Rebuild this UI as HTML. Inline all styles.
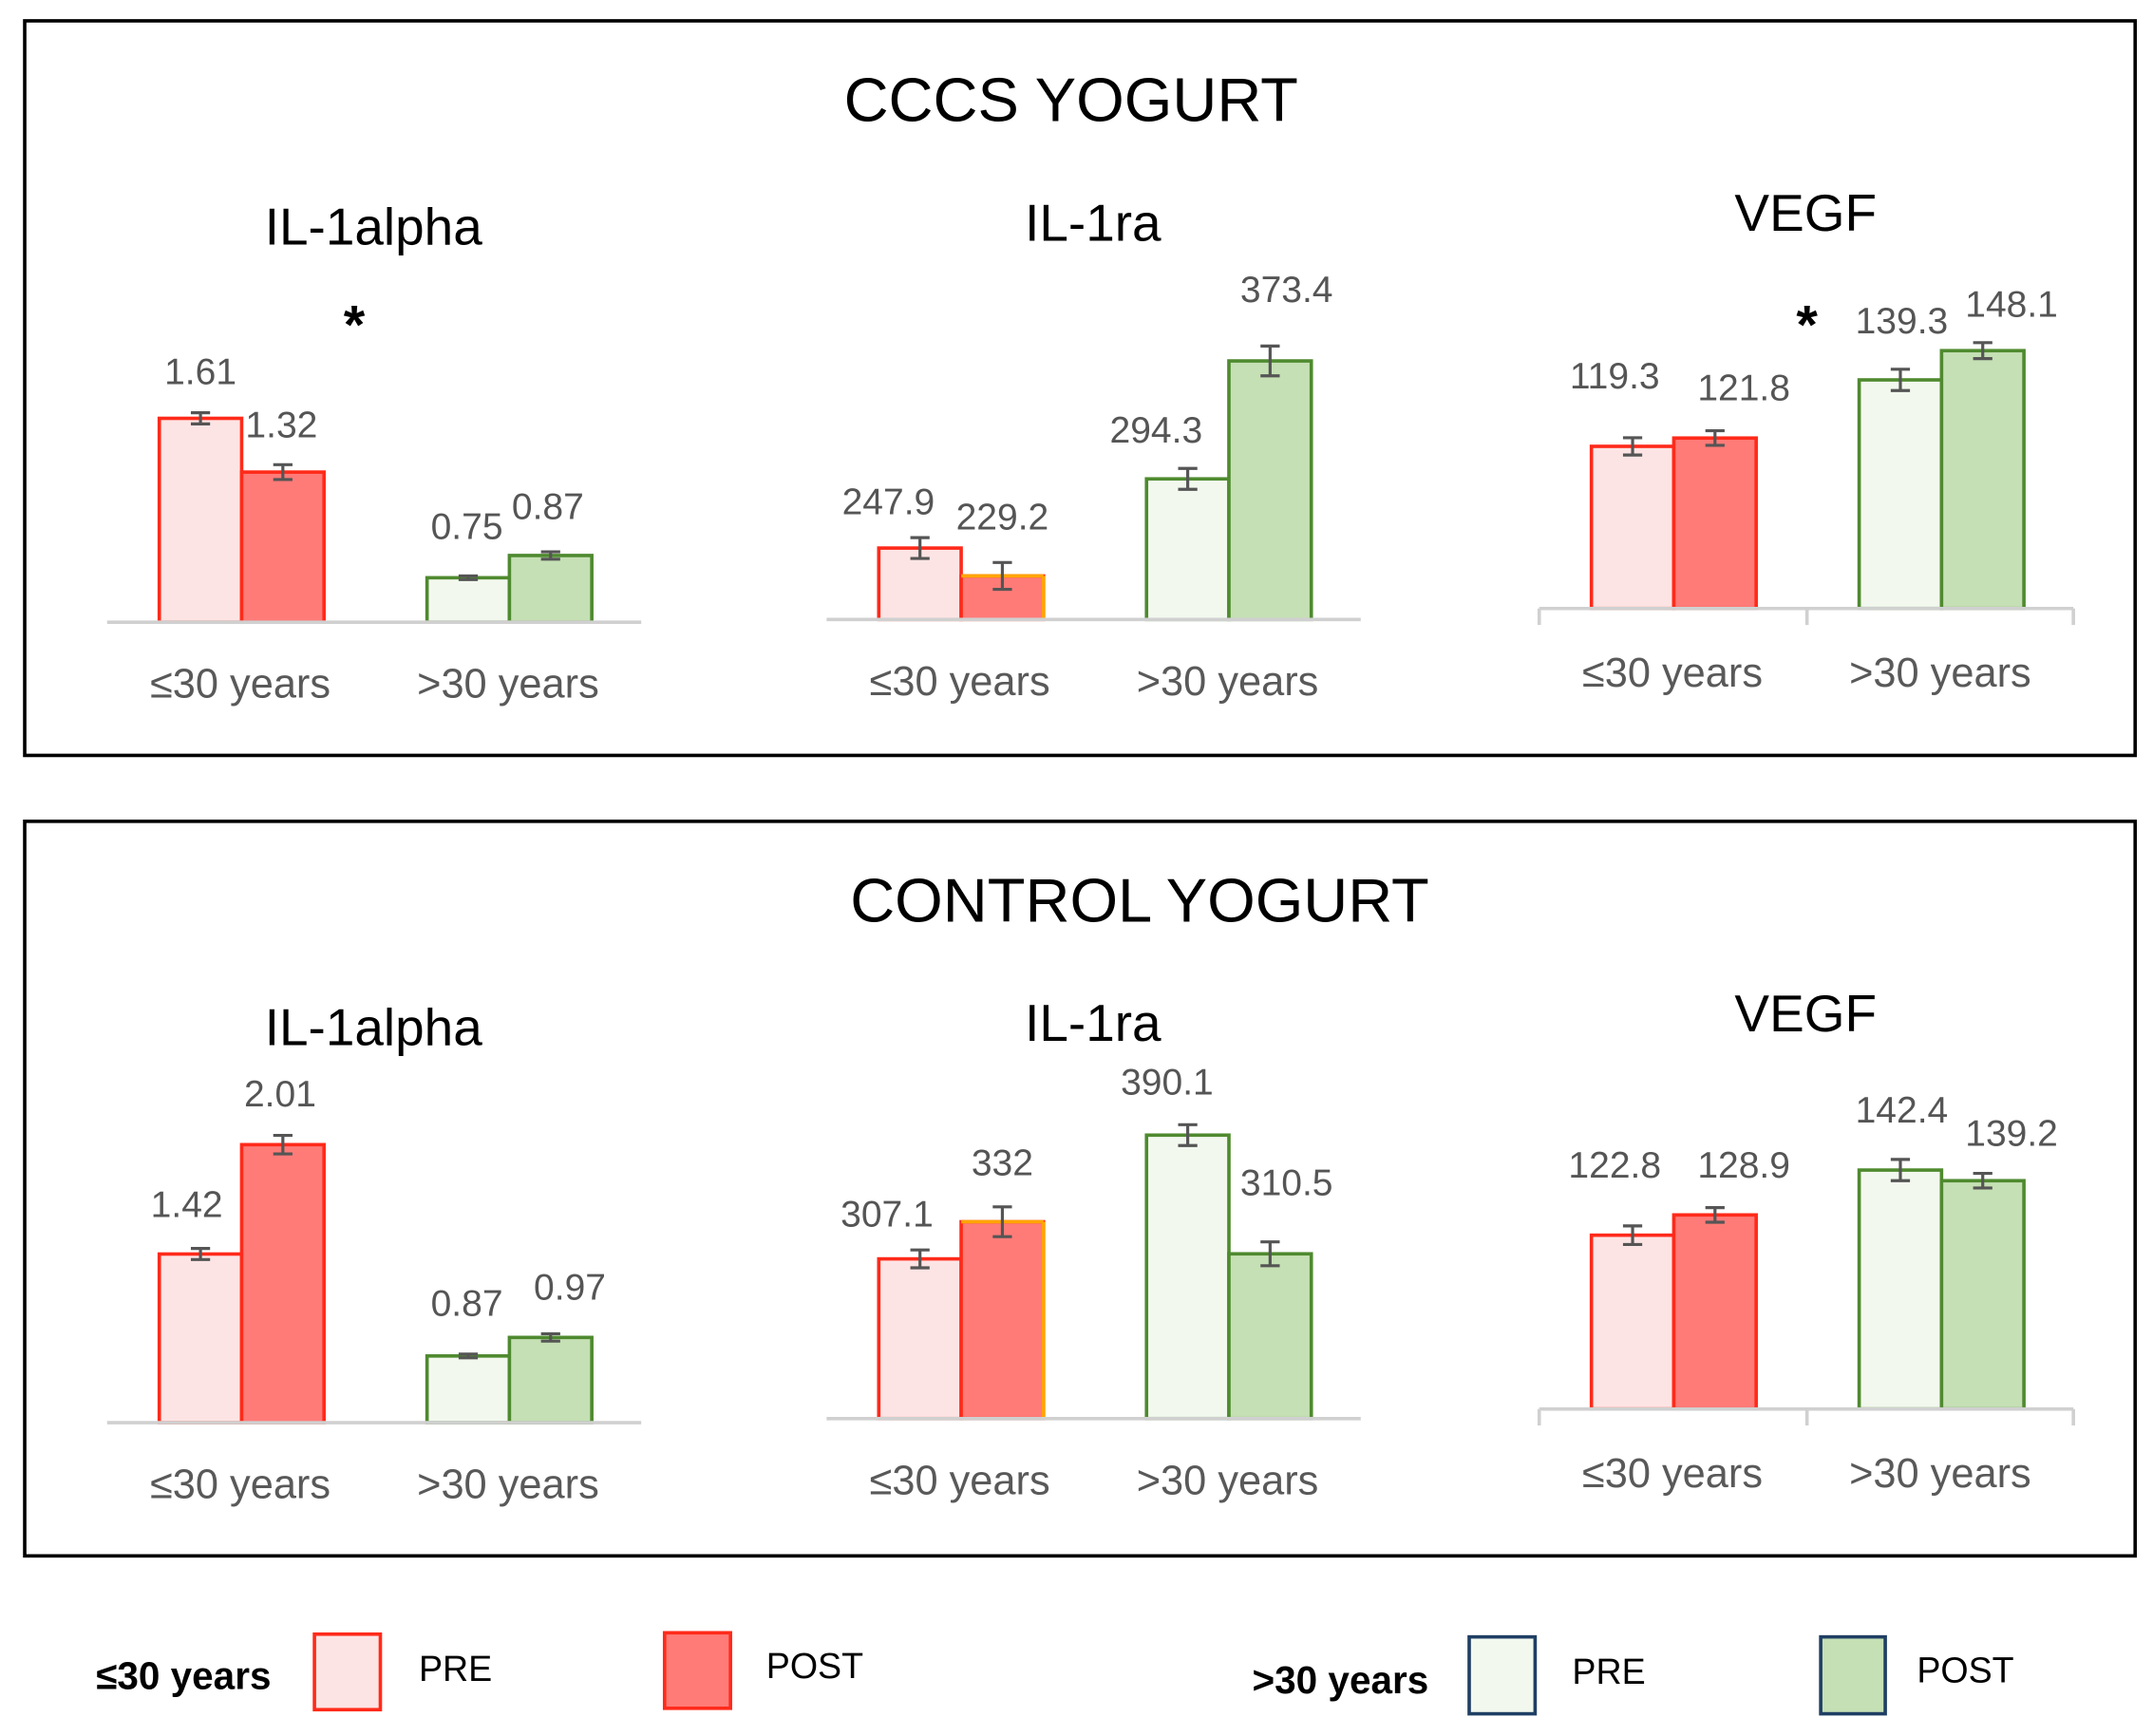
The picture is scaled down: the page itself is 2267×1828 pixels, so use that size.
<!DOCTYPE html>
<html><head><meta charset="utf-8">
<style>
html,body{margin:0;padding:0;background:#fff;}
svg{display:block;font-family:"Liberation Sans",sans-serif;}
</style></head>
<body>
<svg id="chart" width="2267" height="1828" viewBox="0 0 1568 1264" xmlns="http://www.w3.org/2000/svg">
<rect x="0" y="0" width="1568" height="1264" fill="#fff"/>
<rect x="18" y="15" width="1537" height="535" fill="none" stroke="#000" stroke-width="2.5"/>
<rect x="18" y="598" width="1537" height="535" fill="none" stroke="#000" stroke-width="2.5"/>
<text x="780" y="88" font-size="45" text-anchor="middle" fill="#000">CCCS YOGURT</text>
<text x="830" y="671" font-size="45" text-anchor="middle" fill="#000">CONTROL YOGURT</text>
<g id="panels"></g>
<g>
<text x="70" y="1230" font-size="28" font-weight="bold" fill="#000">≤30 years</text>
<rect x="229" y="1190" width="48" height="55" fill="#fde4e4" stroke="#ff2a1a" stroke-width="2.5"/>
<text x="305" y="1224" font-size="26" fill="#000">PRE</text>
<rect x="484" y="1189" width="48" height="55" fill="#ff7b78" stroke="#ff2a1a" stroke-width="2.5"/>
<text x="558" y="1222" font-size="26" fill="#000">POST</text>
<text x="912" y="1233" font-size="28" font-weight="bold" fill="#000">&gt;30 years</text>
<rect x="1070" y="1192" width="48" height="56" fill="#f2f8ee" stroke="#1f3f64" stroke-width="2.5"/>
<text x="1145" y="1226" font-size="26" fill="#000">PRE</text>
<rect x="1326" y="1192" width="47" height="56" fill="#c5e0b4" stroke="#1f3f64" stroke-width="2.5"/>
<text x="1396" y="1225" font-size="26" fill="#000">POST</text>
</g>
</svg>
<script>
// data arrays (order: <=30 PRE, <=30 POST, >30 PRE, >30 POST)
const metrics = ["IL-1alpha","IL-1ra","VEGF","IL-1alpha","IL-1ra","VEGF"];
const categories = ["≤30 years", ">30 years"];
const valuesCCCS = [[1.61,1.32,0.75,0.87],[247.9,229.2,294.3,373.4],[119.3,121.8,139.3,148.1]];
const valuesControl = [[1.42,2.01,0.87,0.97],[307.1,332,390.1,310.5],[122.8,128.9,142.4,139.2]];
const errCCCS = [[0.03,0.04,0.01,0.02],[7,9,7,10],[2.6,2.2,3.2,2.4]];
const errControl = [[0.03,0.05,0.01,0.02],[6,10,7,8],[2.8,2.2,3.2,2.2]];
const labelsCCCS = [["1.61","1.32","0.75","0.87"],["247.9","229.2","294.3","373.4"],["119.3","121.8","139.3","148.1"]];
const labelsControl = [["1.42","2.01","0.87","0.97"],["307.1","332","390.1","310.5"],["122.8","128.9","142.4","139.2"]];
const axisMin = [0.51, 200, 70.5];
const pxPerUnit = [135, 1.086, 2.42];

// label layout nudges (layout, not data)
const nudgeCCCS = [[[0,-4],[-1,-3],[-1,-10],[-2,-7]],[[-23,0],[0,-7],[-23,-2],[12,-15]],[[-13,-19],[21,-5],[1,-9],[21,-2]]];
const nudgeControl = [[[-10,-6],[-2,-4],[-1,-11],[14,-8]],[[-24,0],[0,-6],[-15,-5],[12,-17]],[[-13,-18],[21,-5],[1,-10],[21,-3]]];

const NS="http://www.w3.org/2000/svg";
const root=document.getElementById('panels');
function mk(tag,attrs,parent){const e=document.createElementNS(NS,tag);for(const k in attrs)e.setAttribute(k,attrs[k]);(parent||root).appendChild(e);return e;}
const axisX=[78,602,1121];
const baseTop=[453,451,443], baseBot=[1036,1033,1026];
const titleY=[178,175,168];
const fills=["#fde4e4","#ff7b78","#f2f8ee","#c5e0b4"];
const strokes=["#ff2a1a","#ff2a1a","#4f8a2f","#4f8a2f"];
const offs=[38,98,233,293];
for(let row=0;row<2;row++){
  const vals=row?valuesControl:valuesCCCS, errs=row?errControl:errCCCS, labs=row?labelsControl:labelsCCCS, nud=row?nudgeControl:nudgeCCCS;
  for(let p=0;p<3;p++){
    const x0=axisX[p], base=row?baseBot[p]:baseTop[p], dy=row?583:0;
    const g=mk('g',{});
    
    
    const t=mk('text',{x:x0+194,y:titleY[p]+dy,'font-size':38,'text-anchor':'middle',fill:'#000'},g);
    t.textContent=metrics[p];
    
    
    const yv=v=>base-(v-axisMin[p])*pxPerUnit[p];
    for(let i=0;i<4;i++){
      const v=vals[p][i], top=yv(v), bx=x0+offs[i];
      const r=mk('rect',{x:bx,y:top,width:60,height:base-top,fill:fills[i],stroke:strokes[i],'stroke-width':2.5},g);
      
      
      if(p===1&&i===1){mk('line',{x1:bx,y1:top,x2:bx+60,y2:top,stroke:'#ffa500','stroke-width':2.5},g);mk('line',{x1:bx+60,y1:top,x2:bx+60,y2:base,stroke:'#ffa500','stroke-width':2.5},g);}
      const cx=bx+30, e1=yv(v+errs[p][i]), e2=yv(v-errs[p][i]);
      const eb=mk('path',{d:`M${cx},${e1}V${e2}M${cx-7},${e1}H${cx+7}M${cx-7},${e2}H${cx+7}`,stroke:'#555','stroke-width':2.2,fill:'none'},g);
      
      
      const lt=mk('text',{x:cx+nud[p][i][0],y:Math.min(top,e1)-17+nud[p][i][1],'font-size':27,'text-anchor':'middle',fill:'#555'},g);
      lt.textContent=labs[p][i];
      
      
    }
    const ax=mk('line',{x1:x0,y1:base,x2:x0+389,y2:base,stroke:'#d0d0d0','stroke-width':2.5},g);
    
    
    if(p===2){for(const tx of [x0,x0+195,x0+389])mk('line',{x1:tx,y1:base,x2:tx,y2:base+12,stroke:'#d0d0d0','stroke-width':2.5},g);}
    for(let c=0;c<2;c++){
      const ct=mk('text',{x:x0+97+c*195,y:base+(p===2?57:55),'font-size':30,'text-anchor':'middle',fill:'#595959'},g);
      ct.textContent=categories[c];
      
      
    }
  }
}
for(const [x,y] of [[258,250],[1316,250]]){
  const s=mk('text',{x:x,y:y,'font-size':40,'font-weight':'bold','text-anchor':'middle',fill:'#000'});
  s.textContent='*';
  
  
}
</script>
</body></html>
